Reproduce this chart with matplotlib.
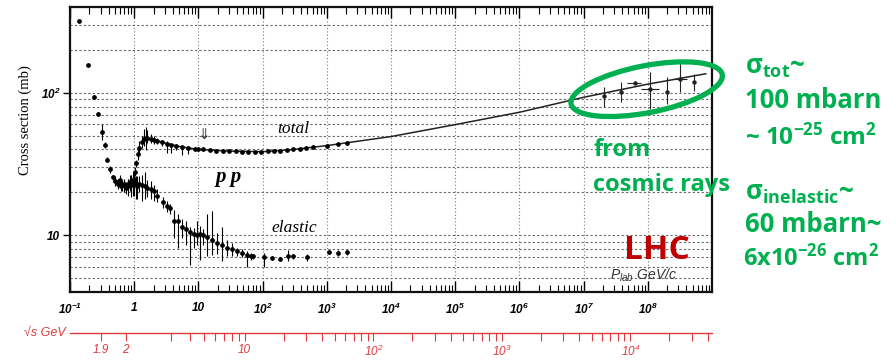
import numpy as np
import matplotlib
matplotlib.use("Agg")
import matplotlib.pyplot as plt
from matplotlib.patches import Ellipse
from matplotlib.transforms import ScaledTranslation
from matplotlib.ticker import LogLocator, NullFormatter, NullLocator

# ---------------- data ----------------
# total pp cross section (p_lab GeV/c, sigma mb, err low, err high)
tot_p = [0.14, 0.19, 0.24, 0.27, 0.31, 0.35, 0.38, 0.42, 0.47, 0.55, 0.62, 0.7, 0.8, 0.9,
         0.98, 1.03, 1.08, 1.14, 1.2, 1.3, 1.4, 1.5, 1.6, 1.8, 2.0, 2.3, 2.7, 3.2, 3.8,
         4.5, 5.5, 7, 9, 10, 12, 15, 19, 24, 30, 38, 48, 60, 75, 95, 120, 150, 190, 240,
         300, 380, 480, 600, 1000, 1500, 2100]
tot_s = [320, 157, 94, 71, 53, 43, 34, 29, 25.5, 23.5, 22, 22.5, 23, 23.5,
         24.5, 28, 32, 37, 41, 45, 47.5, 48.5, 48.5, 47.5, 47, 46, 45, 44, 43,
         42.5, 41.5, 41, 40.5, 40, 40, 39.5, 39.3, 39, 39, 38.8, 38.6, 38.5, 38.6, 38.6,
         38.8, 39, 39.3, 39.6, 40, 40.5, 41, 41.5, 42.5, 43.5, 44.5]
tot_lo = [0, 0, 2, 2, 6, 2, 1.5, 1.5, 1, 1.5, 1.5, 2, 2, 1.5,
          2, 2, 2, 3, 3, 4, 5, 9, 4, 3, 3, 2, 3, 6, 5,
          3, 5, 4, 1, 0.5, 0.5, 0.5, 0.5, 0.5, 0.5, 0.5, 0.5, 0.5, 0.5, 0.5,
          0.5, 0.5, 0.5, 0.5, 0.5, 0.5, 0.5, 0.5, 0.8, 0.8, 1.5]
tot_hi = [0, 0, 2, 2, 7, 2, 1.5, 1.5, 1, 1.5, 2, 2, 2, 1.5,
          2, 2, 2, 3, 5, 5, 8, 9, 6, 4, 3, 2, 2, 2, 1,
          1, 1, 1, 1, 0.5, 0.5, 0.5, 0.5, 0.5, 0.5, 0.5, 0.5, 0.5, 0.5, 0.5,
          0.5, 0.5, 0.5, 0.5, 0.5, 0.5, 0.5, 0.5, 0.8, 0.8, 1.5]

# smooth fit through total cross section
fit_p = [1.4, 2, 3, 5, 10, 30, 100, 300, 1e3, 1e4, 1e5, 1e6, 1e7, 1e8, 8e8]
fit_s = [47.5, 47, 44.5, 42, 40, 39, 38.6, 40, 42.6, 49.3, 59.8, 73, 93, 115, 136]

# cosmic-ray points
cr_p = [2.1e7, 3.8e7, 6.3e7, 1.1e8, 2.0e8, 3.2e8, 5.3e8]
cr_s = [95.7, 102, 117.6, 106.7, 101, 124, 120]
cr_lo = [15.7, 15.6, 3, 30, 17, 22, 17]
cr_hi = [14.3, 17, 3, 33, 29, 41, 16]
cr_xlo = [0, 0, 1.6e7, 3.1e7, 0, 0.7e8, 0]
cr_xhi = [0, 0, 1.6e7, 4.0e7, 0, 0.9e8, 0]

# elastic pp cross section
el_p = [0.5, 0.55, 0.6, 0.65, 0.7, 0.75, 0.8, 0.85, 0.9, 0.95, 1.0, 1.05, 1.1, 1.2, 1.3,
        1.45, 1.6, 1.8, 2.0, 2.3, 2.8, 3.2, 3.6, 4.1, 4.8, 5.5, 6.3, 7.3, 8.4, 9.5, 10.7,
        12, 13.7, 16, 19.6, 23, 28, 33, 40, 48, 58, 65, 70, 104, 140, 190, 245, 295, 500,
        1100, 1500, 2100]
el_s = [24, 23, 24.5, 22.5, 23, 21.5, 22, 23.5, 22.5, 24, 25, 23, 22, 23, 22.5,
        22, 21.5, 21, 20.5, 19, 17.1, 16, 15.5, 12.5, 12.6, 11.5, 11, 10.5, 10.2, 10, 10.2,
        10, 9.7, 9.3, 8.9, 8.5, 8.2, 8, 7.7, 7.5, 7.3, 7.1, 7.1, 7.0, 6.9, 6.8, 7.1, 7.1, 7.0,
        7.6, 7.5, 7.6]
el_lo = [2, 2, 2, 2, 3, 2, 3, 3, 4, 5, 6, 5, 4, 3, 5,
         4, 3, 3, 3, 2, 1.5, 1.5, 1.5, 3, 4.5, 2, 2.5, 4.3, 2, 1.5, 3.5,
         1.5, 2.5, 2, 1.5, 1.9, 1, 0.8, 0.5, 0.5, 1.3, 0.4, 0.3, 1.0, 0.2, 0.2, 0.5, 0.3, 0.4,
         0.2, 0.4, 0.3]
el_hi = [2, 2, 2, 2, 2, 2, 3, 3, 4, 4, 3, 3, 4, 3, 4,
         6, 3, 3, 2, 2, 1.5, 1.5, 1, 2.5, 1.5, 1.5, 1.5, 1, 1, 2.5, 1.5,
         1, 4.5, 5.4, 1.5, 3, 1, 0.8, 0.5, 0.5, 0.5, 0.4, 0.3, 0.5, 0.2, 0.2, 0.8, 0.3, 0.4,
         0.2, 0.4, 0.3]

# axis ticks / labels
x_ticks = [1e-1, 1, 10, 1e2, 1e3, 1e4, 1e5, 1e6, 1e7, 1e8]
x_labels = [r"$\mathregular{10^{-1}}$", "1", "10", r"$\mathregular{10^{2}}$",
            r"$\mathregular{10^{3}}$", r"$\mathregular{10^{4}}$", r"$\mathregular{10^{5}}$",
            r"$\mathregular{10^{6}}$", r"$\mathregular{10^{7}}$", r"$\mathregular{10^{8}}$"]
y_ticks = [10, 100]
y_labels = ["10", r"$\mathregular{10^{2}}$"]
rs_ticks = [1.9, 2, 3, 4, 5, 6, 7, 8, 9, 10, 20, 30, 40, 50, 60, 70, 80, 90, 100,
            200, 300, 400, 500, 600, 700, 800, 900, 1000, 2000, 3000, 4000, 5000, 6000,
            7000, 8000, 9000, 10000, 20000, 30000, 40000]
rs_named = {1.9: "1.9", 2: "2", 10: "10", 100: r"$\mathregular{10^{2}}$",
            1000: r"$\mathregular{10^{3}}$", 10000: r"$\mathregular{10^{4}}$"}

M_P = 0.938


def plab_to_sqrts(p):
    p = np.asarray(p, dtype=float)
    with np.errstate(all="ignore"):
        e = np.sqrt(np.maximum(p, 1e-9) ** 2 + M_P ** 2)
        return np.sqrt(2 * M_P ** 2 + 2 * M_P * e)


def sqrts_to_plab(rs):
    rs = np.asarray(rs, dtype=float)
    with np.errstate(all="ignore"):
        e = (rs ** 2 - 2 * M_P ** 2) / (2 * M_P)
        return np.sqrt(np.maximum(e ** 2 - M_P ** 2, 1e-12))


RED = "#de3a3e"
GREEN = "#00b050"

fig = plt.figure(figsize=(8.96, 3.6), dpi=100)
ax = fig.add_axes([70 / 896, 1 - 292 / 360, 642 / 896, 285 / 360])
ax.set_xscale("log")
ax.set_yscale("log")

# data
ax.plot(fit_p, fit_s, "-", color="#222222", lw=1.1, zorder=3)
ax.errorbar(tot_p, tot_s, yerr=[tot_lo, tot_hi], fmt="o", ms=2.4, color="black",
            elinewidth=0.8, capsize=0, zorder=4)
ax.errorbar(cr_p, cr_s, yerr=[cr_lo, cr_hi], xerr=[cr_xlo, cr_xhi], fmt="o", ms=2.2,
            color="#222222", elinewidth=0.8, capsize=0, zorder=4)
ax.errorbar(el_p, el_s, yerr=[el_lo, el_hi], fmt="o", ms=2.4, color="black",
            elinewidth=0.8, capsize=0, zorder=4)

ax.set_xlim(1e-1, 1e9)
ax.set_ylim(4, 400)

# ticks
ax.set_xticks(x_ticks, x_labels, fontfamily="Liberation Sans", fontweight="bold",
              fontstyle="italic", fontsize=8.5)
ax.xaxis.set_minor_locator(LogLocator(base=10, subs=np.arange(2, 10), numticks=50))
ax.xaxis.set_minor_formatter(NullFormatter())
ax.set_yticks(y_ticks, y_labels, fontfamily="Liberation Sans", fontweight="bold",
              fontstyle="italic", fontsize=8.5)
ax.yaxis.set_minor_locator(LogLocator(base=10, subs=np.arange(2, 10), numticks=50))
ax.yaxis.set_minor_formatter(NullFormatter())

ax.tick_params(axis="x", which="major", direction="in", length=8, width=1.0,
               top=True, bottom=True, pad=7)
ax.tick_params(axis="x", which="minor", direction="in", length=5, width=0.8,
               top=True, bottom=True)
ax.tick_params(axis="y", which="major", direction="out", length=5, width=1.0, pad=2)
ax.tick_params(axis="y", which="minor", length=0)

ax.grid(True, axis="x", which="major", ls=(0, (1, 2)), color="#777777", lw=0.8)
ax.grid(True, axis="y", which="both", ls=(0, (2, 2)), color="#666666", lw=0.8)
for s in ax.spines.values():
    s.set_linewidth(1.6)
    s.set_color("#111111")

# y label
fig.text(25 / 896, 1 - 120 / 360, "Cross section (mb)", rotation=90, ha="center",
         va="center", fontfamily="Liberation Serif", fontsize=10.5)

# curve labels
ax.text(300, 55.8, "total", fontfamily="Liberation Serif", fontstyle="italic",
        fontsize=12.5, ha="center", va="center")
ax.text(316, 11.2, "elastic", fontfamily="Liberation Serif", fontstyle="italic",
        fontsize=12.5, ha="center", va="center")
ax.text(29.5, 25.6, "p p", fontfamily="Liberation Serif", fontstyle="italic",
        fontweight="bold", fontsize=15, ha="center", va="center")
ax.text(12.4, 51.4, "\u21d3", fontfamily="DejaVu Sans", fontsize=11, ha="center",
        va="center", color="#333333")

# LHC and P_lab
ax.text(0.914, 0.145, "LHC", transform=ax.transAxes, color="#c00000",
        fontfamily="Open Sans", fontweight="bold", fontsize=24, ha="center", va="center")
ax.text(0.841, 0.045, r"$\mathregular{P_{lab}}$ GeV/c", transform=ax.transAxes,
        color="#333333", fontfamily="Liberation Sans", fontstyle="italic", fontsize=10,
        ha="left", va="baseline")

# sqrt(s) secondary axis
secax = ax.secondary_xaxis(-0.144, functions=(plab_to_sqrts, sqrts_to_plab))
secax.set_xticks(rs_ticks, [rs_named.get(t, "") for t in rs_ticks],
                 fontfamily="Liberation Sans", fontstyle="italic", fontsize=8.5, color=RED)
secax.xaxis.set_minor_locator(NullLocator())
secax.tick_params(axis="x", which="major", direction="out", length=6, width=0.8,
                  color=RED, labelcolor=RED, pad=2)
secax.spines["bottom"].set_color(RED)
secax.spines["bottom"].set_linewidth(1.0)
ax.text(-0.006, -0.144, "\u221as GeV", transform=ax.transAxes, ha="right", va="center",
        color=RED, fontfamily=["Liberation Sans", "DejaVu Sans"], fontstyle="italic",
        fontsize=9)

# green ellipse around cosmic ray points
ell = Ellipse((0, 0), 1.54, 0.47, angle=11, fill=False, edgecolor=GREEN, lw=3.8,
              transform=fig.dpi_scale_trans + ScaledTranslation(9.6e7, 106, ax.transData),
              clip_on=False, zorder=5)
fig.add_artist(ell)

# green annotations
gkw = dict(color=GREEN, fontfamily="Open Sans", fontweight="bold", ha="left", va="center")
fig.text(593 / 896, 1 - 150 / 360, "from", fontsize=17, **gkw)
fig.text(593 / 896, 1 - 185 / 360, "cosmic rays", fontsize=17, **gkw)
fig.text(745 / 896, 1 - 66 / 360, r"σ$\mathregular{_{tot}}$~", fontsize=18.5, **gkw)
fig.text(745 / 896, 1 - 100 / 360, "100 mbarn", fontsize=18.5, **gkw)
fig.text(745 / 896, 1 - 137 / 360, r"~ 10$\mathregular{^{-25}}$ cm$\mathregular{^{2}}$",
         fontsize=17.5, **gkw)
fig.text(745 / 896, 1 - 192 / 360, r"σ$\mathregular{_{inelastic}}$~", fontsize=18.5, **gkw)
fig.text(745 / 896, 1 - 224 / 360, "60 mbarn~", fontsize=18.5, **gkw)
fig.text(743 / 896, 1 - 258 / 360, r"6x10$\mathregular{^{-26}}$ cm$\mathregular{^{2}}$",
         fontsize=17, **gkw)

fig.savefig("out.png", dpi=100)
